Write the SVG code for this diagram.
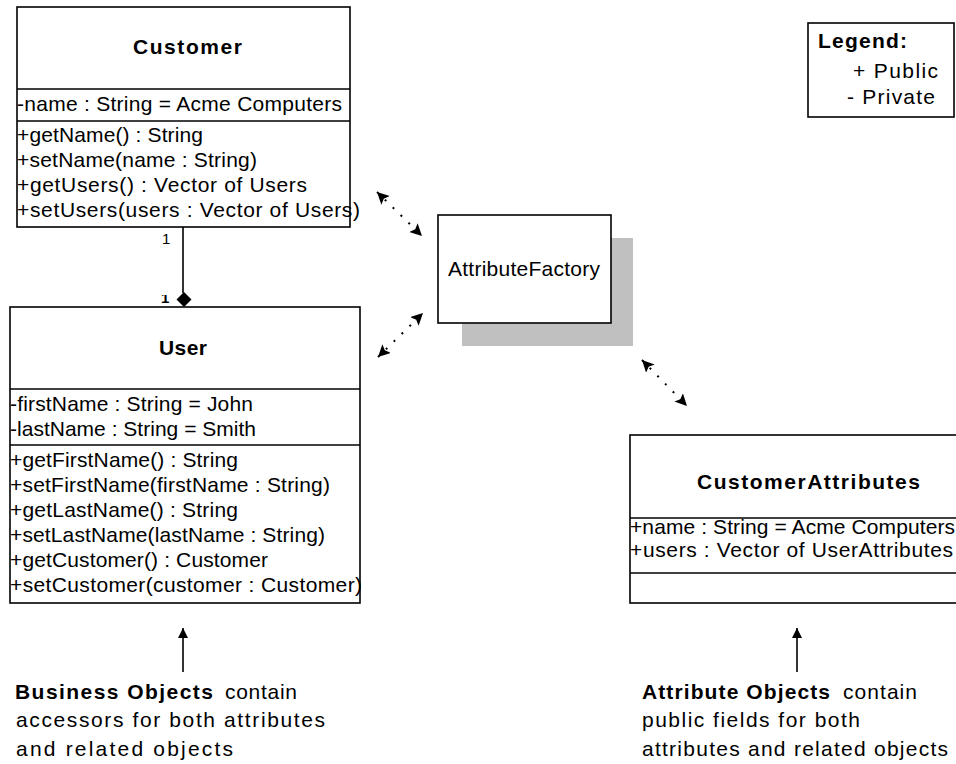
<svg xmlns="http://www.w3.org/2000/svg" width="956" height="764" viewBox="0 0 956 764">
<defs>
<style>
text{font-family:"Liberation Sans",Arial,sans-serif;fill:#000}
.t{font-size:21px}
.b{font-size:21px;font-weight:bold}
.box{fill:#fff;stroke:#000;stroke-width:1.6}
.div{stroke:#000;stroke-width:1.6}
.dot{fill:none;stroke:#000;stroke-width:2;stroke-dasharray:2 9;marker-start:url(#ah);marker-end:url(#ah)}
.sol{fill:none;stroke:#000;stroke-width:1.6}
</style>
<marker id="ah" markerUnits="userSpaceOnUse" markerWidth="16" markerHeight="14" refX="12" refY="6" orient="auto-start-reverse">
<path d="M0,0 L12,6 L0,12 L2.5,6 z" fill="#000"/>
</marker>
<marker id="up" markerUnits="userSpaceOnUse" markerWidth="12" markerHeight="12" refX="10" refY="5" orient="auto">
<path d="M0,0 L10,5 L0,10 z" fill="#000"/>
</marker>
<clipPath id="c1"><rect x="150" y="295" width="30" height="12"/></clipPath>
</defs>

<g id="legend">
<rect class="box" x="808" y="23" width="146" height="94"/>
<text class="b" x="818" y="48" textLength="89" lengthAdjust="spacing">Legend:</text>
<text class="t" x="853" y="78" textLength="85" lengthAdjust="spacing">+ Public</text>
<text class="t" x="847" y="104" textLength="88" lengthAdjust="spacing">- Private</text>
</g>

<g id="customer">
<rect class="box" x="17" y="7" width="333" height="220"/>
<line class="div" x1="17" y1="89" x2="350" y2="89"/>
<line class="div" x1="17" y1="121" x2="350" y2="121"/>
<text class="b" x="133" y="54" textLength="109" lengthAdjust="spacing">Customer</text>
<text class="t" x="17" y="111" textLength="325" lengthAdjust="spacing">-name : String = Acme Computers</text>
<text class="t" x="17" y="142" textLength="186" lengthAdjust="spacing">+getName() : String</text>
<text class="t" x="17" y="167" textLength="240" lengthAdjust="spacing">+setName(name : String)</text>
<text class="t" x="17" y="192" textLength="290" lengthAdjust="spacing">+getUsers() : Vector of Users</text>
<text class="t" x="17" y="217" textLength="343" lengthAdjust="spacing">+setUsers(users : Vector of Users)</text>
</g>

<g id="user">
<rect class="box" x="10" y="307" width="350" height="296"/>
<line class="div" x1="10" y1="389" x2="360" y2="389"/>
<line class="div" x1="10" y1="445" x2="360" y2="445"/>
<text class="b" x="159" y="355" textLength="48" lengthAdjust="spacing">User</text>
<text class="t" x="10" y="411" textLength="243" lengthAdjust="spacing">-firstName : String = John</text>
<text class="t" x="10" y="436" textLength="246" lengthAdjust="spacing">-lastName : String = Smith</text>
<text class="t" x="10" y="467" textLength="228" lengthAdjust="spacing">+getFirstName() : String</text>
<text class="t" x="10" y="492" textLength="320" lengthAdjust="spacing">+setFirstName(firstName : String)</text>
<text class="t" x="10" y="517" textLength="228" lengthAdjust="spacing">+getLastName() : String</text>
<text class="t" x="10" y="542" textLength="315" lengthAdjust="spacing">+setLastName(lastName : String)</text>
<text class="t" x="10" y="567" textLength="258" lengthAdjust="spacing">+getCustomer() : Customer</text>
<text class="t" x="10" y="592" textLength="352" lengthAdjust="spacing">+setCustomer(customer : Customer)</text>
</g>

<g id="attributeFactory">
<rect x="462" y="238" width="171" height="108" fill="#c0c0c0"/>
<rect class="box" x="438" y="215" width="173" height="108"/>
<text class="t" x="448" y="276" textLength="152" lengthAdjust="spacing">AttributeFactory</text>
</g>

<g id="customerAttributes">
<rect class="box" x="630" y="435" width="340" height="168"/>
<line class="div" x1="630" y1="518" x2="970" y2="518"/>
<line class="div" x1="630" y1="573" x2="970" y2="573"/>
<text class="b" x="697" y="489" textLength="223" lengthAdjust="spacing">CustomerAttributes</text>
<text class="t" x="630" y="534" textLength="325" lengthAdjust="spacing">+name : String = Acme Computers</text>
<text class="t" x="630" y="557" textLength="323" lengthAdjust="spacing">+users : Vector of UserAttributes</text>
</g>

<g id="connectors">
<line class="sol" x1="183" y1="227" x2="183" y2="293"/>
<polygon points="184,292 191.5,299.5 184,307 176.5,299.5" fill="#000"/>
<text x="162" y="244" style="font-size:15px">1</text>
<text x="161" y="303" clip-path="url(#c1)" style="font-size:15px;font-weight:bold">1</text>
<line class="dot" x1="377" y1="192" x2="422" y2="236"/>
<line class="dot" x1="378" y1="357" x2="423" y2="313"/>
<line class="dot" x1="642" y1="360" x2="687" y2="406"/>
<line class="sol" x1="183" y1="672" x2="183" y2="628" marker-end="url(#up)"/>
<line class="sol" x1="797" y1="672" x2="797" y2="628" marker-end="url(#up)"/>
</g>

<g id="notes">
<text class="b" x="15" y="699" textLength="198" lengthAdjust="spacing">Business Objects</text>
<text class="t" x="225" y="699" textLength="72" lengthAdjust="spacing">contain</text>
<text class="t" x="16" y="727" textLength="309" lengthAdjust="spacing">accessors for both attributes</text>
<text class="t" x="16" y="756" textLength="217" lengthAdjust="spacing">and related objects</text>
<text class="b" x="642" y="699" textLength="188" lengthAdjust="spacing">Attribute Objects</text>
<text class="t" x="843" y="699" textLength="74" lengthAdjust="spacing">contain</text>
<text class="t" x="642" y="727" textLength="218" lengthAdjust="spacing">public fields for both</text>
<text class="t" x="642" y="756" textLength="306" lengthAdjust="spacing">attributes and related objects</text>
</g>
</svg>
